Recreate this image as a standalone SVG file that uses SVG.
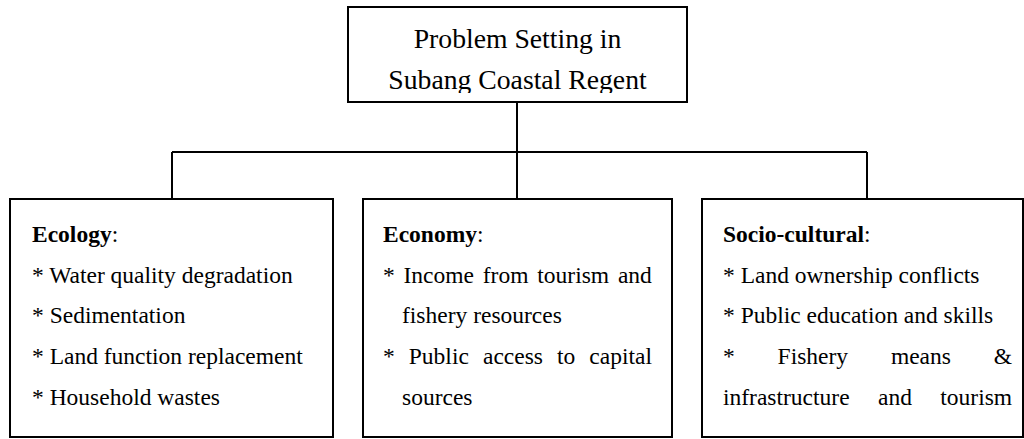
<svg xmlns="http://www.w3.org/2000/svg" width="1024" height="439" viewBox="0 0 1024 439">
<style>
.box{fill:#fff;stroke:#000;stroke-width:2}
.ln{fill:none;stroke:#000;stroke-width:2}
text{font-family:"Liberation Serif","Times New Roman",serif;fill:#000}
.t{font-size:27.7px}
.b{font-size:23.5px}
.h{font-weight:bold}
</style>
<defs>
<clipPath id="topclip"><rect x="349" y="8" width="337" height="85"/></clipPath>
</defs>
<g id="connectors">
<path class="ln" d="M517 102 V152 M172 152 H867 M172 152 V199 M517 152 V199 M867 152 V199"/>
</g>
<g id="top">
<rect class="box" x="348" y="7" width="339" height="95"/>
<g clip-path="url(#topclip)">
<text class="t" x="517.5" y="48" text-anchor="middle">Problem Setting in</text>
<text class="t" x="517.5" y="89" text-anchor="middle">Subang Coastal Regent</text>
</g>
</g>
<g id="ecology">
<rect class="box" x="10" y="199" width="323" height="238"/>
<text class="b" x="32" y="242"><tspan class="h">Ecology</tspan>:</text>
<text class="b" x="32" y="283">* Water quality degradation</text>
<text class="b" x="32" y="323">* Sedimentation</text>
<text class="b" x="32" y="364">* Land function replacement</text>
<text class="b" x="32" y="405">* Household wastes</text>
</g>
<g id="economy">
<rect class="box" x="363" y="199" width="309" height="238"/>
<text class="b" x="383" y="242"><tspan class="h">Economy</tspan>:</text>
<text class="b" y="283"><tspan x="383">*</tspan><tspan x="403.5">Income</tspan><tspan x="482.8">from</tspan><tspan x="537.3">tourism</tspan><tspan x="617.9">and</tspan></text>
<text class="b" x="402" y="323">fishery resources</text>
<text class="b" y="364"><tspan x="383">*</tspan><tspan x="408.8">Public</tspan><tspan x="483">access</tspan><tspan x="557">to</tspan><tspan x="589.3">capital</tspan></text>
<text class="b" x="402" y="405">sources</text>
</g>
<g id="sociocultural">
<rect class="box" x="702" y="199" width="321" height="238"/>
<text class="b" x="723" y="242"><tspan class="h">Socio-cultural</tspan>:</text>
<text class="b" x="723" y="283">* Land ownership conflicts</text>
<text class="b" x="723" y="323">* Public education and skills</text>
<text class="b" y="364"><tspan x="723">*</tspan><tspan x="777.6">Fishery</tspan><tspan x="890.9">means</tspan><tspan x="993.7">&amp;</tspan></text>
<text class="b" y="405"><tspan x="723">infrastructure</tspan><tspan x="878">and</tspan><tspan x="940.3">tourism</tspan></text>
</g>
</svg>
